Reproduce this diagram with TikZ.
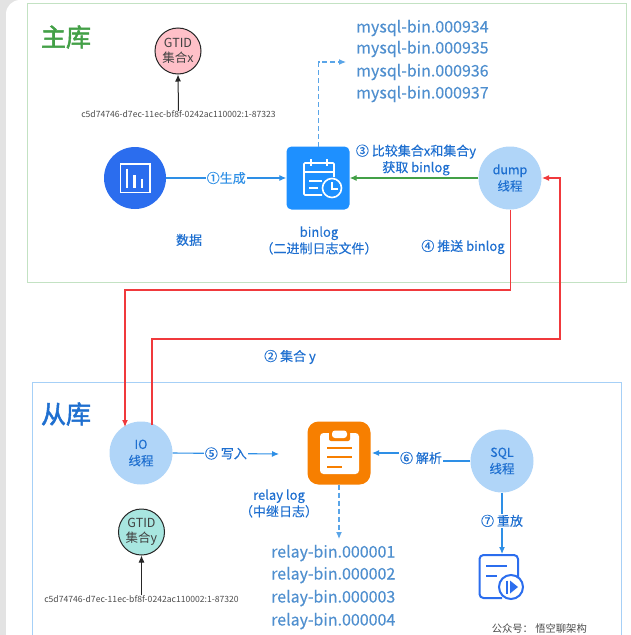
\documentclass[tikz,border=0pt]{standalone}
\usepackage{fontspec}
\setmainfont{Noto Sans CJK SC}
\newfontfamily\medf[FakeBold=0.15]{Noto Sans CJK SC}
\newfontfamily\strongf[FakeBold=2]{Noto Sans CJK SC}
\usetikzlibrary{arrows.meta}
\definecolor{cgreenb}{HTML}{C3E2C3}
\definecolor{cgreent}{HTML}{43A047}
\definecolor{cblueb}{HTML}{A6D0F7}
\definecolor{cbluet}{HTML}{1E6FD0}
\definecolor{cline}{HTML}{2E8FE6}
\definecolor{clite}{HTML}{B0D5F8}
\definecolor{croyal}{HTML}{2B6DEE}
\definecolor{cicon}{HTML}{1E90FF}
\definecolor{corange}{HTML}{F77F00}
\definecolor{cfile}{HTML}{4F8FCF}
\definecolor{cdash}{HTML}{5AA5E8}
\definecolor{cred}{HTML}{F0393C}
\definecolor{cpink}{HTML}{FFC0C8}
\definecolor{cteal}{HTML}{A8E6E0}
\tikzset{
 x=1pt,y=-1pt,
 frame/.style={draw,line width=1pt},
 thread/.style={circle,fill=clite,minimum size=63pt,inner sep=0pt,align=center,text=cbluet,font=\medf\fontsize{12.5}{16.5}\selectfont},
 gtid/.style={circle,draw=black!85,line width=1pt,minimum size=46pt,inner sep=0pt,align=center,text=black!75,font=\fontsize{12.5}{15.5}\selectfont},
 lab/.style={text=cbluet,align=center,font=\medf\fontsize{13}{16.5}\selectfont,inner sep=1pt},
 file/.style={text=cfile,anchor=west,inner sep=0pt,font=\medf\fontsize{16}{18}\selectfont},
 uuid/.style={text=black!70,inner sep=0pt,font=\fontsize{8.6}{10}\selectfont},
 tip/.style={-{Latex[length=7pt,width=6pt]}},
 bl/.style={draw=cline,line width=1.1pt,tip},
 rd/.style={draw=cred,line width=1.2pt,tip},
 ds/.style={draw=cdash,line width=1.1pt,dash pattern=on 5pt off 3pt,tip},
 blk/.style={draw=black!85,line width=1pt,tip},
 iconw/.style={draw=white,line width=1.6pt},
}
\begin{document}
\begin{tikzpicture}
\useasboundingbox (0,0) rectangle (631,635);
\fill[black!11] (0,0) rectangle (631,635);
\fill[white,rounded corners=14pt] (6,700) -- (6,0) -- (700,0) -- (700,700) -- cycle;
% frames
\draw[frame,draw=cgreenb] (27,3.5) rectangle (626,282);
\draw[frame,draw=cblueb] (32,382) rectangle (621,640);
\node[text=cgreent,font=\strongf\fontsize{25}{28}\selectfont,inner sep=0pt] (zhu) at (66,37) {主库};
\node[text=cbluet,font=\strongf\fontsize{25}{28}\selectfont,inner sep=0pt] (cong) at (66,414) {从库};
% master
\node[gtid,fill=cpink] (gx) at (178,51) {GTID\\集合x};
\node[uuid] (ux) at (178.5,114.5) {c5d74746-d7ec-11ec-bf8f-0242ac110002:1-87323};
\draw[blk] (ux.north) -- (gx.south);
\node[circle,fill=croyal,minimum size=62pt,inner sep=0pt] (data) at (135,178) {};
\draw[iconw,line width=1.8pt] (120.5,164) rectangle (150,192.5);
\draw[white,line width=2.6pt] (127,168.5)--(127,188) (134.5,175)--(134.5,188) (142,178.5)--(142,188);
\node[lab] (datal) at (189,240) {数据};
\node[fill=cicon,rounded corners=5pt,minimum size=63pt,inner sep=0pt] (bin) at (318,178) {};
\draw[iconw,rounded corners=1pt] (322,195) -- (304,195) -- (304,163) -- (334,163) -- (334,177);
\draw[white,line width=1.6pt] (311,159)--(311,166) (327,159)--(327,166) (304,172)--(334,172) (309,181)--(322,181) (309,188)--(318,188);
\draw[iconw,fill=cicon] (332,188) circle (9.5);
\draw[white,line width=1.4pt] (332,182)--(332,189)--(338,189);
\node[lab] (binl) at (319,240.5) {binlog\\（二进制日志文件）};
\coordinate (fa) at (346,62);
\draw[ds] (318.5,146.5) |- (fa);
\foreach \t/\y in {934/28,935/49,936/72,937/94}{
 \node[file] at (356,\y) {mysql-bin.000\t};
}
\node[thread] (dump) at (510,178) {dump\\线程};
\draw[draw=cgreent,line width=1.1pt,tip] (dump) -- (bin);
\node[lab] (l3) at (416,160) {③ 比较集合x和集合y\\获取 binlog};
\node[lab] (l4) at (463,247) {④ 推送 binlog};
\draw[bl] (data) -- (bin) node[pos=.5,fill=white,text=cline,inner sep=1pt,font=\medf\fontsize{13}{15}\selectfont] (l1) {①生成};
% slave
\node[thread] (io) at (141,453) {IO\\线程};
\node[thread] (sql) at (502,461) {SQL\\线程};
\node[fill=corange,rounded corners=11pt,minimum size=63pt,inner sep=0pt] (relay) at (339,453) {};
\fill[white,rounded corners=3.5pt] (320,433) rectangle (359,474);
\fill[corange,rounded corners=2pt] (329,427) rectangle (350,441);
\fill[white,rounded corners=3pt] (332,430.5) rectangle (347,438);
\draw[corange,line width=2pt] (327,448)--(352,448) (327,457)--(352,457) (327,467)--(342,467);
\node[lab] (rl) at (279,503.5) {relay log\\（中继日志）};
\coordinate (fr) at (339,539);
\draw[ds] (relay.south) -- (fr);
\foreach \t/\y in {1/553,2/575,3/598,4/621}{
 \node[file] at (271,\y) {relay-bin.00000\t};
}
\node[gtid,fill=cteal] (gy) at (141.5,532) {GTID\\集合y};
\node[uuid] (uy) at (141.5,599) {c5d74746-d7ec-11ec-bf8f-0242ac110002:1-87320};
\draw[blk] (uy.north) -- (gy.south);
\coordinate (a5) at (279,454);
\draw[bl] (io.east) -- (a5) node[pos=.5,fill=white,inner sep=1pt,text=cbluet,font=\medf\fontsize{13}{15}\selectfont] (l5) {⑤ 写入};
\coordinate (a6) at (372,453);
\draw[bl] (sql.west) -- (421,461) -- (421,453) -- (a6);
\node[lab,fill=white] (l6) at (421,458) {⑥ 解析};
% replay icon
\coordinate (rp) at (502,554);
\draw[bl] (sql) -- (rp) node[pos=.46,fill=white,inner sep=1pt,text=cbluet,font=\medf\fontsize{13}{15}\selectfont] (l7) {⑦ 重放};
\draw[draw=croyal,line width=2pt,rounded corners=4pt] (502,598) -- (479.5,598) -- (479.5,555) -- (518,555) -- (518,577);
\draw[croyal,line width=2pt] (486,566)--(507,566) (486,576)--(497,576);
\draw[croyal,line width=2pt,fill=white] (511,587) circle (12);
\fill[croyal] (510,580.5)--(518,587)--(510,593.5)--cycle;
\draw[croyal,line width=1.5pt] (507,580.5)--(507,593.5);
% red connectors
\draw[rd] (510.5,209.5) -- (510.5,290) -- (125,290) -- (125,427);
\draw[rd] (152,425) -- (152,339) -- (560,339) -- (560,178) -- (542,178);
\node[lab] (l2) at (290,357) {② 集合 y};
\node[text=black!70,anchor=east,inner sep=0pt,font=\fontsize{10.3}{12}\selectfont] (gzh) at (587,629) {公众号： 悟空聊架构};
\end{tikzpicture}
\end{document}
